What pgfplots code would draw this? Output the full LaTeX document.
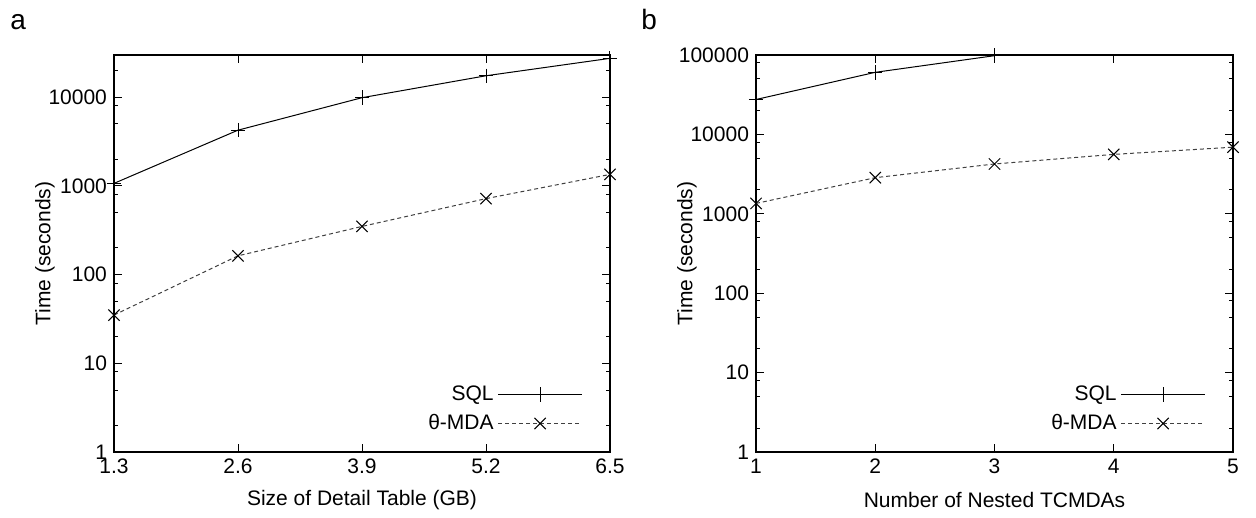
\documentclass[border=0pt]{standalone}
\usepackage{pgfplots}
\pgfplotsset{compat=1.18}
\usepackage{fontspec}
\setmainfont{Liberation Sans}

\tikzset{
  sqlstyle/.style={black, line width=0.5pt, mark=+, mark size=3.6pt, mark options={solid, line width=0.5pt}},
  mdastyle/.style={black!75, line width=0.5pt, dash pattern=on 2pt off 1.5pt, mark=x, mark size=4pt, mark options={solid, black, line width=0.5pt}},
}
\newcommand{\gpfont}{\fontsize{10.5}{12}\selectfont}

\pgfplotsset{
  every axis/.append style={
    scale only axis, height=198.5pt,
    clip=false,
    axis line style={line width=0.75pt},
    major tick length=4pt, minor tick length=2pt,
    every tick/.style={black, line width=0.5pt},
    tick align=inside,
    tick label style={font=\gpfont},
    label style={font=\gpfont},
    ylabel={Time (seconds)},
    ylabel style={at={(axis description cs:0,0.5)}, anchor=center, rotate=0, yshift=34.5pt},
    xlabel style={at={(axis description cs:0.5,0)}, anchor=center, yshift=-24pt},
    legend plot pos=right,
    legend cell align=right,
    legend image code/.code={\draw[mark repeat=2,mark phase=2,##1] plot coordinates {(0pt,0pt) (21pt,0pt) (42pt,0pt)};},
    legend style={draw=none, fill=none, at={(axis description cs:1,0)}, anchor=south east, xshift=-10.5pt, yshift=5.5pt,
      font=\gpfont, row sep=1.5pt},
  }
}

\begin{document}
\begin{tikzpicture}
\useasboundingbox (-57pt,-33pt) rectangle (571pt,226pt);
\begin{semilogyaxis}[name=a, at={(0pt,0pt)}, width=248pt,
  xmin=1.3, xmax=6.5, ymin=1, ymax=30000,
  xtick={1.3,2.6,3.9,5.2,6.5}, xticklabels={1.3,2.6,3.9,5.2,6.5},
  ytick={1,10,100,1000,10000}, yticklabels={1,10,100,1000,10000},
  minor ytick={2,5,8,20,50,80,200,500,800,2000,5000,8000,20000},
  xlabel={Size of Detail Table (GB)}]
\addplot[sqlstyle] coordinates {(1.3,1070) (2.6,4260) (3.9,9900) (5.2,17500) (6.5,27500)};
\addlegendentry{SQL}
\addplot[mdastyle] coordinates {(1.3,35) (2.6,163) (3.9,350) (5.2,720) (6.5,1350)};
\addlegendentry{θ-MDA}
\end{semilogyaxis}
\begin{semilogyaxis}[name=b, at={(321pt,0pt)}, width=238.5pt,
  xmin=1, xmax=5, ymin=1, ymax=100000,
  xtick={1,2,3,4,5}, xticklabels={1,2,3,4,5},
  ytick={1,10,100,1000,10000,100000}, yticklabels={1,10,100,1000,10000,100000},
  minor ytick={2,5,8,20,50,80,200,500,800,2000,5000,8000,20000,50000,80000},
  xlabel={Number of Nested TCMDAs}]
\addplot[sqlstyle] coordinates {(1,27500) (2,60500) (3,98000)};
\addlegendentry{SQL}
\addplot[mdastyle] coordinates {(1,1350) (2,2850) (3,4240) (4,5600) (5,6900)};
\addlegendentry{θ-MDA}
\end{semilogyaxis}
\node[anchor=base west, font=\fontsize{14}{16}\selectfont, inner sep=0pt] at (-52pt,211pt) {a};
\node[anchor=base west, font=\fontsize{14}{16}\selectfont, inner sep=0pt] at (263.5pt,211pt) {b};
\end{tikzpicture}
\end{document}
